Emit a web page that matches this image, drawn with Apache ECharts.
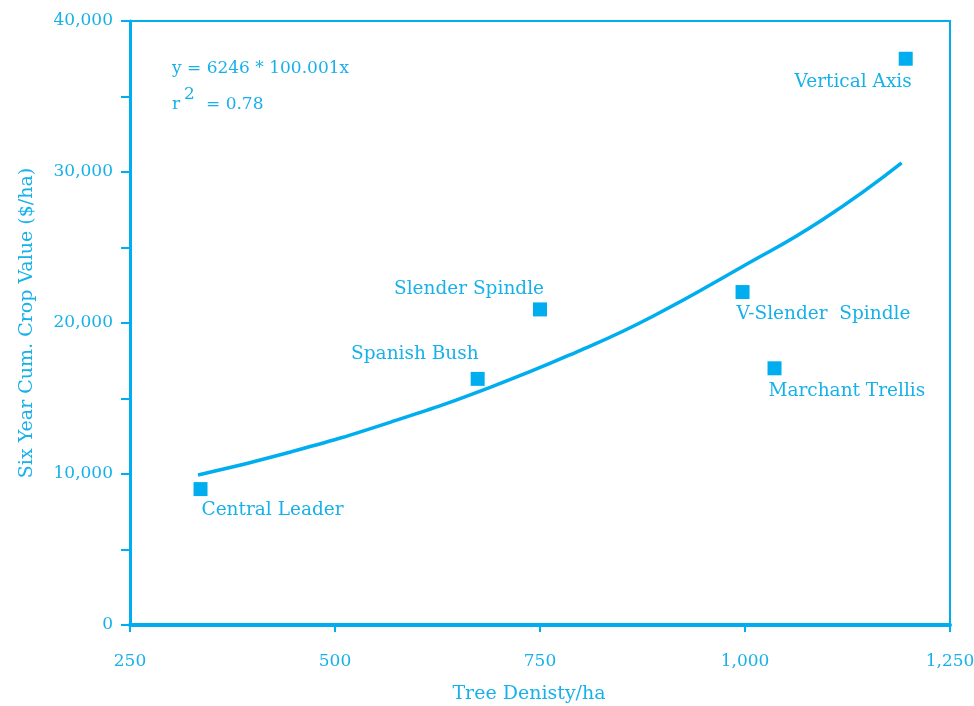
<!DOCTYPE html>
<html>
<head>
<meta charset="utf-8">
<script src="https://cdn.jsdelivr.net/npm/echarts@6/dist/echarts.min.js"></script>
<style>
  html, body { margin: 0; padding: 0; background: #fff; }
  #scatter_chart { width: 974px; height: 706px; }
</style>
</head>
<body>
<div id="scatter_chart"></div>
<script>
// training systems: tree density vs six year cumulative crop value
const systemNames = ['Central Leader', 'Spanish Bush', 'Slender Spindle', 'V-Slender  Spindle', 'Marchant Trellis', 'Vertical Axis'];
const densityX = [336, 674, 750, 997, 1036, 1196];
const cropValueY = [9000, 16300, 20900, 22050, 17000, 37500];

// fitted curve
const fitX = [333, 446, 568, 690, 800, 886, 996, 1094, 1191];
const fitY = [9930, 11460, 13440, 15760, 18210, 20400, 23710, 26820, 30600];

const xTicks = [250, 500, 750, 1000, 1250];
const yTicks = [0, 10000, 20000, 30000, 40000];

// where each label sits relative to its square (top-left of the symbol box)
const labelPlace = [
    { position: [8, 28], align: 'left' },
    { position: [8, -18], align: 'right' },
    { position: [11, -13], align: 'right' },
    { position: [1, 29], align: 'left' },
    { position: [1, 30], align: 'left' },
    { position: [13, 30], align: 'right' }
];

const cyan = '#00aeef';
const textCyan = '#17b1ea';
const serif = 'DejaVu Serif';

const chartDom = document.getElementById('scatter_chart');
const myChart = echarts.init(chartDom);

const pointData = systemNames.map((name, i) => ({
    name: name,
    value: [densityX[i], cropValueY[i]],
    label: {
        position: labelPlace[i].position,
        align: labelPlace[i].align
    }
}));

const option = {
    animation: false,
    textStyle: { fontFamily: serif },
    grid: {
        left: 130,
        right: 24,
        top: 21,
        bottom: 81,
        outerBoundsMode: 'none',
        containLabel: false,
        show: true,
        borderColor: cyan,
        borderWidth: 2
    },
    xAxis: {
        type: 'value',
        min: 250,
        max: 1250,
        interval: 250,
        name: 'Tree Denisty/ha',
        nameLocation: 'middle',
        nameGap: 60,
        nameTextStyle: { color: textCyan, fontSize: 19, fontFamily: serif, padding: [0, 22, 0, 0] },
        axisLine: { show: true, lineStyle: { color: cyan, width: 4 } },
        axisTick: { show: true, length: 7, lineStyle: { color: cyan, width: 2 } },
        axisLabel: {
            color: textCyan,
            fontSize: 17,
            margin: 28,
            fontFamily: serif,
            formatter: v => xTicks.includes(v) ? v.toLocaleString('en-US') : ''
        },
        splitLine: { show: false }
    },
    yAxis: {
        type: 'value',
        min: 0,
        max: 40000,
        interval: 5000,
        name: 'Six Year Cum. Crop Value ($/ha)',
        nameLocation: 'middle',
        nameGap: 93,
        nameTextStyle: { color: textCyan, fontSize: 19, fontFamily: serif },
        axisLine: { show: true, lineStyle: { color: cyan, width: 3 } },
        axisTick: { show: true, length: 9, lineStyle: { color: cyan, width: 2 } },
        axisLabel: {
            color: textCyan,
            fontSize: 17,
            margin: 17,
            fontFamily: serif,
            formatter: v => yTicks.includes(v) ? v.toLocaleString('en-US') : ''
        },
        splitLine: { show: false }
    },
    graphic: [
        {
            type: 'text',
            left: 172,
            top: 60,
            style: { text: 'y = 6246 * 100.001x', fill: textCyan, font: '17px "DejaVu Serif"' }
        },
        {
            type: 'text',
            left: 172,
            top: 96,
            style: { text: 'r', fill: textCyan, font: '17px "DejaVu Serif"' }
        },
        {
            type: 'text',
            left: 184,
            top: 86,
            style: { text: '2', fill: textCyan, font: '17px "DejaVu Serif"' }
        },
        {
            type: 'text',
            left: 206,
            top: 96,
            style: { text: '= 0.78', fill: textCyan, font: '17px "DejaVu Serif"' }
        }
    ],
    series: [
        {
            name: 'fit',
            type: 'line',
            smooth: true,
            showSymbol: false,
            data: fitX.map((x, i) => [x, fitY[i]]),
            lineStyle: { color: cyan, width: 3.5 },
            z: 2
        },
        {
            name: 'systems',
            type: 'scatter',
            symbol: 'rect',
            symbolSize: 14,
            itemStyle: { color: cyan, opacity: 1 },
            data: pointData,
            label: {
                show: true,
                formatter: '{b}',
                color: textCyan,
                fontSize: 18.5,
                fontFamily: serif,
                verticalAlign: 'middle'
            },
            z: 3
        }
    ]
};

option && myChart.setOption(option);
</script>
</body>
</html>
